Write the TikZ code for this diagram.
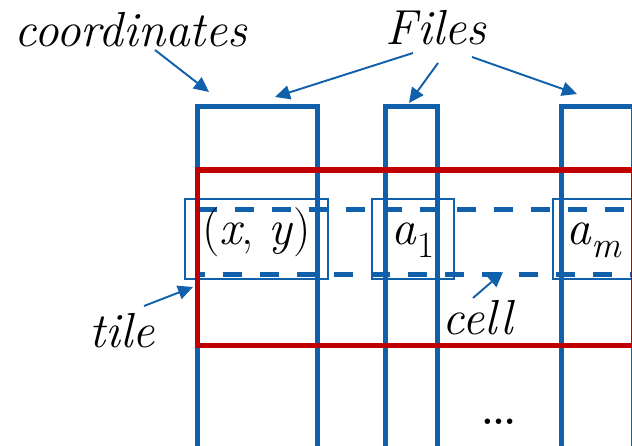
\documentclass[tikz,border=0pt]{standalone}
\usepackage{fontspec}
\usetikzlibrary{arrows.meta}
\definecolor{fileblue}{RGB}{16,96,172}
\definecolor{cellred}{RGB}{192,0,0}
\newcommand{\idx}[1]{\raisebox{-0.25em}{\fontsize{21}{22}\selectfont #1}}

\begin{document}
\begin{tikzpicture}[
    col/.style={draw=fileblue, line width=2.9pt},
    cellbox/.style={draw=cellred, line width=3.4pt},
    row/.style={draw=fileblue, line width=2.6pt, dash pattern=on 0.38cm off 0.36cm},
    tilebox/.style={draw=fileblue, line width=0.85pt, inner sep=0pt, minimum height=1.6cm,
      font=\fontsize{28}{30}\selectfont, text height=0.9em, text depth=0.22em},
    lbl/.style={inner sep=0pt, anchor=base, font=\fontsize{28}{30}\selectfont\itshape},
    arr/.style={draw=fileblue, line width=1.1pt, -{Triangle[length=0.3cm, width=0.28cm]}}]
  \useasboundingbox (0,0) rectangle (12.64,8.92);
  \clip (0,0) rectangle (12.64,8.92);
  \draw[col] (3.95,-0.1) -- (3.95,6.79) -- (6.35,6.79) -- (6.35,-0.1);
  \draw[col] (7.71,-0.1) -- (7.71,6.79) -- (8.75,6.79) -- (8.75,-0.1);
  \draw[col] (11.23,-0.1) -- (11.23,6.79) -- (12.68,6.79) -- (12.68,-0.1);
  \draw[row] (3.95,4.73) -- (12.7,4.73);
  \draw[row, dash phase=0.24cm] (3.95,3.43) -- (12.7,3.43);
  \node[tilebox, minimum width=2.86cm] (t1) at (5.13,4.14) {(\textit{x}, \textit{y})};
  \node[tilebox, minimum width=1.64cm] (t2) at (8.26,4.14) {\textit{a}\idx{1}};
  \node[tilebox, minimum width=1.64cm] (t3) at (11.88,4.14) {\textit{a}\idx{\textit{m}}};
  \draw[cellbox] (3.95,2.01) rectangle (12.67,5.52);
  \coordinate (pc) at (4.18,7.08);
  \coordinate (p1) at (5.50,6.98);
  \coordinate (p2) at (8.18,6.86);
  \coordinate (p3) at (11.54,7.04);
  \coordinate (pt) at (3.86,3.18);
  \coordinate (pe) at (10.06,3.48);
  \node[lbl] (coords) at (2.62,7.98) {coordinates};
  \node[lbl] (files) at (8.72,8.02) {Files};
  \node[lbl] (tile) at (2.44,1.96) {tile};
  \node[lbl] (cell) at (9.56,2.22) {cell};
  \node[lbl, font=\fontsize{38}{40}\selectfont] (dots) at (9.98,0.42) {\dots};
  \draw[arr] ([xshift=0.48cm, yshift=-0.06cm]coords.base) -- (pc);
  \draw[arr] ([xshift=-0.46cm, yshift=-0.16cm]files.base) -- (p1);
  \draw[arr] ([xshift=0.04cm, yshift=-0.36cm]files.base) -- (p2);
  \draw[arr] ([xshift=0.72cm, yshift=-0.24cm]files.base) -- (p3);
  \draw[arr] ([xshift=0.44cm, yshift=0.84cm]tile.base) -- (pt);
  \draw[arr] ([xshift=-0.10cm, yshift=0.74cm]cell.base) -- (pe);
\end{tikzpicture}
\end{document}
